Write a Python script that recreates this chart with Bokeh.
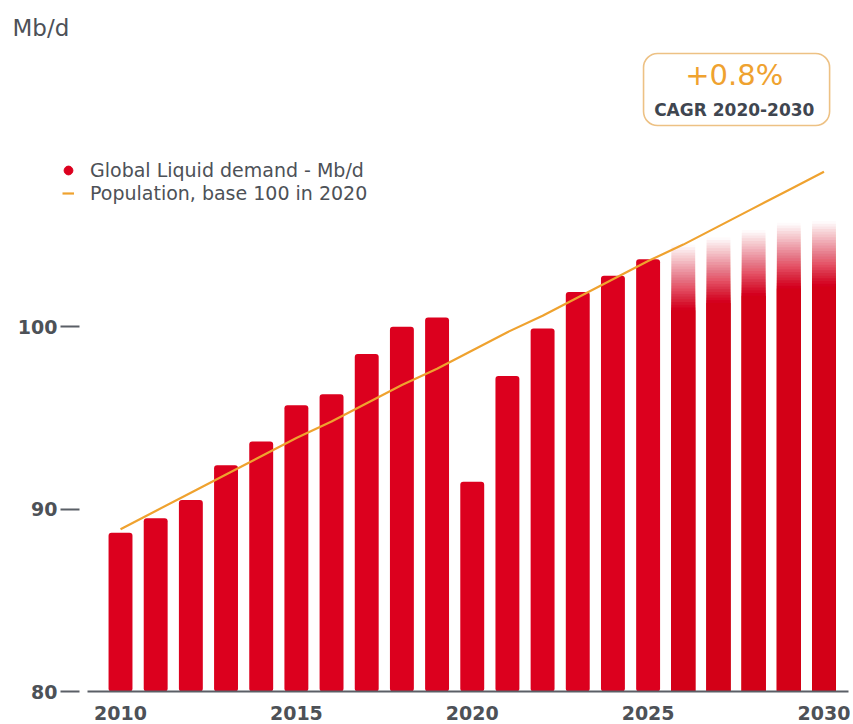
import numpy as np
from bokeh.plotting import figure
from bokeh.models import Range1d, FixedTicker, Label, BoxAnnotation, Legend, LegendItem
from bokeh.embed import file_html
from bokeh.resources import INLINE

# ---------------- data ----------------
years_hist = [2010, 2011, 2012, 2013, 2014, 2015, 2016, 2017,
              2018, 2019, 2020, 2021, 2022, 2023, 2024, 2025]
demand_hist = [88.7, 89.5, 90.5, 92.4, 93.7, 95.7, 96.3, 98.5,
               100.0, 100.5, 91.5, 97.3, 99.9, 101.9, 102.8, 103.7]
years_fc = [2026, 2027, 2028, 2029, 2030]
demand_fc = [104.5, 104.9, 105.3, 105.7, 105.8]
pop_years = [2010, 2011, 2012, 2013, 2014, 2015, 2016, 2017, 2018, 2019, 2020,
             2021, 2022, 2023, 2024, 2025, 2026, 2027, 2028, 2029, 2030]
pop_index = [88.9, 89.9, 90.9, 91.9, 92.9, 93.9, 94.8, 95.8, 96.8, 97.7, 98.7,
             99.7, 100.6, 101.6, 102.6, 103.6, 104.5, 105.5, 106.5, 107.5, 108.5]
x_ticks = [2010, 2015, 2020, 2025, 2030]
y_ticks = [80, 90, 100]
unit_label = "Mb/d"
cagr_value = "+0.8%"
cagr_label = "CAGR 2020-2030"
legend_labels = ["Global Liquid demand - Mb/d", "Population, base 100 in 2020"]

# ---------------- style ----------------
RED = "#DC001E"
ORANGE = "#EFA22F"
GRAY = "#4D5157"
FONT = "DejaVu Sans"
BASE = 80
FADE = 3.6
NSLICE = 24
BAR_W = 0.68
PX_PER_UNIT = 18.24
BASE_PX = 691  # pixel row of the baseline

W, H = 850, 724
y_start = BASE - (H - BASE_PX) / PX_PER_UNIT
y_end = BASE + BASE_PX / PX_PER_UNIT

p = figure(width=W, height=H, output_backend="svg", toolbar_location=None,
           x_range=Range1d(2006.588, 2030.754), y_range=Range1d(y_start, y_end),
           min_border_left=0, min_border_right=0, min_border_top=0,
           min_border_bottom=0)
p.grid.visible = False
p.outline_line_color = None
p.background_fill_color = "white"
p.border_fill_color = "white"

# historical bars
p.vbar(x=years_hist, top=demand_hist, bottom=BASE, width=BAR_W,
       fill_color=RED, line_color=None, border_radius=3)

# forecast bars: solid lower part + smooth fade (stacked translucent layers)
p.vbar(x=years_fc, top=[v - FADE for v in demand_fc], bottom=BASE, width=BAR_W,
       fill_color=RED, line_color=None)
trans = [(i + 0.5) / NSLICE for i in range(NSLICE)]
layer_alpha = [1 - trans[i] / trans[i + 1] for i in range(NSLICE - 1)] + [1 - trans[-1]]
fx, ft, fa = [], [], []
for yr, v in zip(years_fc, demand_fc):
    start = v - FADE
    for i in range(NSLICE):
        fx.append(yr)
        ft.append(start + FADE * (i + 1) / NSLICE)
        fa.append(layer_alpha[i])
p.vbar(x=fx, bottom=BASE, top=ft, width=BAR_W, fill_color=RED,
       fill_alpha=fa, line_color=None)

# population line
r_line = p.line(pop_years, pop_index, line_color=ORANGE, line_width=2.2)

# legend marker renderer (a single NaN point: nothing drawn in the plot)
r_dot = p.scatter(x=np.array([np.nan]), y=np.array([np.nan]), marker="circle",
                  fill_color=RED, line_color=RED)

common = dict(padding=0, margin=0, border_line_color=None, background_fill_alpha=0,
              label_text_font=FONT, label_text_font_size="19px",
              label_text_color=GRAY, glyph_height=22, label_height=22)
leg1 = Legend(items=[LegendItem(label=legend_labels[0], renderers=[r_dot])],
              location=(57, H - 181), glyph_width=22, label_standoff=11, **common)
leg2 = Legend(items=[LegendItem(label=legend_labels[1], renderers=[r_line])],
              location=(62, H - 204), glyph_width=12, label_standoff=16, **common)
p.add_layout(leg1)
p.add_layout(leg2)

# axes
xa = p.xaxis[0]
xa.fixed_location = BASE
xa.ticker = FixedTicker(ticks=x_ticks)
xa.bounds = (2009.062, 2030.697)
xa.axis_line_color = "#5A5F66"
xa.axis_line_width = 2
xa.major_tick_line_color = None
xa.minor_tick_line_color = None
xa.major_label_standoff = 8
xa.major_label_text_font = FONT
xa.major_label_text_font_size = "19px"
xa.major_label_text_font_style = "bold"
xa.major_label_text_color = GRAY

ya = p.yaxis[0]
ya.fixed_location = 2009.062
ya.ticker = FixedTicker(ticks=y_ticks)
ya.axis_line_color = None
ya.major_tick_in = -8
ya.major_tick_out = 27
ya.major_tick_line_color = "#5A5F66"
ya.major_tick_line_width = 2
ya.minor_tick_line_color = None
ya.major_label_standoff = 3
ya.major_label_text_font = FONT
ya.major_label_text_font_size = "19px"
ya.major_label_text_font_style = "bold"
ya.major_label_text_color = GRAY

# unit label
p.add_layout(Label(x=2006.93, y=116.35, text=unit_label, text_font=FONT,
                   text_font_size="23px", text_color=GRAY,
                   text_align="left", text_baseline="alphabetic"))

# CAGR box
p.add_layout(BoxAnnotation(left=2024.87, right=2030.16, bottom=111.03, top=114.98,
                           fill_color=None, fill_alpha=0, line_color="#EDC184",
                           line_alpha=1.0, line_width=1.6, border_radius=14))
p.add_layout(Label(x=2027.45, y=113.8, text=cagr_value, text_font=FONT,
                   text_font_size="29px", text_color=ORANGE,
                   text_align="center", text_baseline="middle"))
p.add_layout(Label(x=2027.45, y=111.9, text=cagr_label, text_font=FONT,
                   text_font_size="17px", text_font_style="bold",
                   text_color="#3F4650",
                   text_align="center", text_baseline="middle"))

open("out.html", "w").write(file_html(p, INLINE))
